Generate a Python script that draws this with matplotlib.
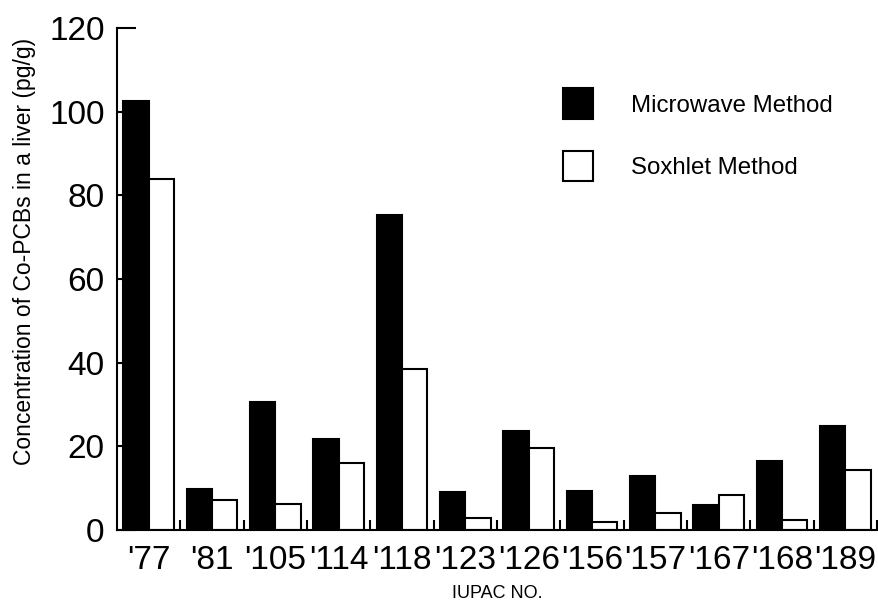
import matplotlib
matplotlib.use("Agg")
import matplotlib.pyplot as plt
import numpy as np
from matplotlib.patches import Patch

plt.rcParams['font.family'] = ['Liberation Sans', 'DejaVu Sans']

categories = ["'77", "'81", "'105", "'114", "'118", "'123", "'126", "'156", "'157", "'167", "'168", "'189"]
microwave = [102.5, 9.8, 30.5, 21.8, 75.3, 9.0, 23.6, 9.4, 13.0, 6.0, 16.5, 24.9]
soxhlet = [83.8, 7.2, 6.3, 15.9, 38.4, 2.8, 19.5, 2.0, 4.1, 8.4, 2.4, 14.3]
yticks = [0, 20, 40, 60, 80, 100, 120]

fig = plt.figure(figsize=(8.79, 6.06), dpi=100)
ax = fig.add_axes([117/879, 1-530/606, 760/879, 502/606])

x = np.arange(len(categories))
w = 0.4
ax.bar(x - w/2, microwave, width=w, color='black', edgecolor='black', linewidth=1.5, label='Microwave Method')
ax.bar(x + w/2, soxhlet, width=w, color='white', edgecolor='black', linewidth=1.5, label='Soxhlet Method')

ax.set_xlim(-0.5, 11.5)
ax.set_ylim(0, 120)
ax.set_yticks(yticks)
ax.set_yticklabels([str(v) for v in yticks], fontsize=24)
ax.set_xticks(x)
ax.set_xticklabels(categories, fontsize=24)
ax.set_xticks(np.arange(len(categories)) + 0.5, minor=True)
ax.tick_params(axis='x', which='major', length=0, pad=11)
ax.tick_params(axis='x', which='minor', direction='in', length=7, width=1.5)
ax.tick_params(axis='y', direction='in', length=14, width=1.5, pad=9)

for s in ['top', 'right']:
    ax.spines[s].set_visible(False)
for s in ['left', 'bottom']:
    ax.spines[s].set_linewidth(1.5)

ax.set_ylabel('Concentration of Co-PCBs in a liver (pg/g)', fontsize=16.5)
ax.yaxis.set_label_coords(-0.106, 0.555)
ax.set_xlabel('IUPAC NO.', fontsize=13)
ax.xaxis.set_label_coords(0.5, -0.11)

handles = [Patch(facecolor='black', edgecolor='black', linewidth=1.5),
           Patch(facecolor='white', edgecolor='black', linewidth=1.5)]
fig.legend(handles, ['Microwave Method', 'Soxhlet Method'], loc='upper left',
           bbox_to_anchor=(563/879, 1-88.5/606), bbox_transform=fig.transFigure,
           frameon=False, fontsize=17.3, handlelength=1.25, handleheight=1.6,
           labelspacing=1.3, handletextpad=1.6, borderpad=0, borderaxespad=0)

fig.savefig('out.png', dpi=100)
